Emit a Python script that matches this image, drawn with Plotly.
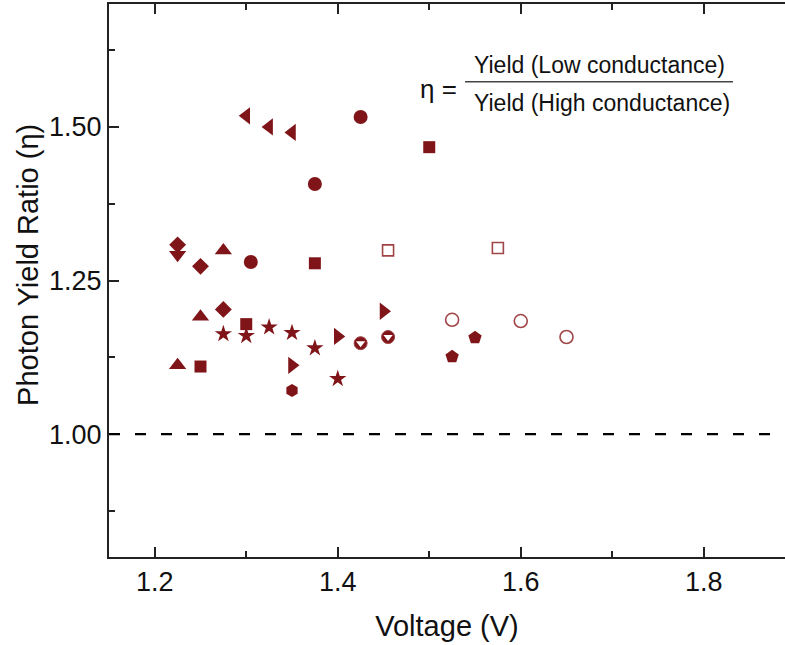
import plotly.graph_objects as go

DARK = "#7f1518"
OPEN = "#a04446"

# ---- data (Voltage V, photon yield ratio eta) ----
circle_x = [1.305, 1.375, 1.425]
circle_y = [1.280, 1.407, 1.516]
square_x = [1.25, 1.30, 1.375, 1.50]
square_y = [1.110, 1.179, 1.278, 1.467]
tri_up_x = [1.225, 1.25, 1.275]
tri_up_y = [1.112, 1.191, 1.299]
tri_down_x = [1.225]
tri_down_y = [1.292]
diamond_x = [1.225, 1.25, 1.275]
diamond_y = [1.308, 1.273, 1.203]
tri_left_x = [1.30, 1.325, 1.35]
tri_left_y = [1.518, 1.500, 1.491]
tri_right_x = [1.35, 1.40, 1.45]
tri_right_y = [1.112, 1.159, 1.200]
hexagon_x = [1.35]
hexagon_y = [1.071]
star_x = [1.275, 1.30, 1.325, 1.35, 1.375, 1.40]
star_y = [1.163, 1.160, 1.174, 1.165, 1.140, 1.090]
half_x = [1.425, 1.455]
half_y = [1.148, 1.158]
pentagon_x = [1.525, 1.55]
pentagon_y = [1.126, 1.157]
open_square_x = [1.455, 1.575]
open_square_y = [1.299, 1.303]
open_circle_x = [1.525, 1.60, 1.65]
open_circle_y = [1.186, 1.184, 1.158]

x_ticks = [1.2, 1.4, 1.6, 1.8]
y_ticks = [1.00, 1.25, 1.50]
y_tick_text = ["1.00", "1.25", "1.50"]
reference_eta = 1.0

FONT = "Arial, Liberation Sans, sans-serif"

fig = go.Figure()

def filled(x, y, symbol, size):
    fig.add_trace(go.Scatter(
        x=x, y=y, mode="markers",
        marker=dict(symbol=symbol, size=size, color=DARK,
                    line=dict(width=0)),
        showlegend=False, hoverinfo="skip"))

filled(circle_x, circle_y, "circle", 14)
filled(square_x, square_y, "square", 12)
filled(tri_up_x, tri_up_y, "triangle-up", 15)
filled(tri_down_x, tri_down_y, "triangle-down", 15)
filled(diamond_x, diamond_y, "diamond", 13)
filled(tri_left_x, tri_left_y, "triangle-left", 15)
filled(tri_right_x, tri_right_y, "triangle-right", 15)
filled(hexagon_x, hexagon_y, "hexagon", 13)
filled(star_x, star_y, "star", 13)
filled(pentagon_x, pentagon_y, "pentagon", 14)

# half-filled circles
fig.add_trace(go.Scatter(
    x=half_x, y=half_y, mode="markers",
    marker=dict(symbol="circle", size=13, color=DARK,
                line=dict(width=1, color=OPEN)),
    showlegend=False, hoverinfo="skip"))
fig.add_trace(go.Scatter(
    x=half_x, y=half_y, mode="markers",
    marker=dict(symbol="triangle-down", size=8, color="white",
                line=dict(width=0)),
    showlegend=False, hoverinfo="skip"))

# open markers
fig.add_trace(go.Scatter(
    x=open_square_x, y=open_square_y, mode="markers",
    marker=dict(symbol="square-open", size=11, color=OPEN,
                line=dict(width=1.6, color=OPEN)),
    showlegend=False, hoverinfo="skip"))
fig.add_trace(go.Scatter(
    x=open_circle_x, y=open_circle_y, mode="markers",
    marker=dict(symbol="circle-open", size=13, color=OPEN,
                line=dict(width=1.6, color=OPEN)),
    showlegend=False, hoverinfo="skip"))

# dashed reference line at eta = 1
fig.add_shape(type="line", xref="paper", x0=0, x1=1, yref="y",
              y0=reference_eta, y1=reference_eta,
              line=dict(color="black", width=2.3, dash="11px,15px"))

# equation
fig.add_annotation(xref="paper", yref="paper", x=0.7256, y=0.8897,
                   text="Yield (Low conductance)", showarrow=False,
                   font=dict(family=FONT, size=23, color="#111"),
                   xanchor="center", yanchor="middle")
fig.add_annotation(xref="paper", yref="paper", x=0.729, y=0.821,
                   text="Yield (High conductance)", showarrow=False,
                   font=dict(family=FONT, size=23, color="#111"),
                   xanchor="center", yanchor="middle")
fig.add_annotation(xref="paper", yref="paper", x=0.4867, y=0.846,
                   text="η =", showarrow=False,
                   font=dict(family=FONT, size=26, color="#111"),
                   xanchor="center", yanchor="middle")
fig.add_shape(type="line", xref="paper", yref="paper",
              x0=0.5266, x1=0.923, y0=0.8595, y1=0.8595,
              line=dict(color="#444", width=1.5))

# y-axis title (placed as in the reference)
fig.add_annotation(xref="paper", yref="paper", x=-0.12, y=0.528,
                   text="Photon Yield Ratio (η)", showarrow=False,
                   textangle=-90,
                   font=dict(family=FONT, size=29, color="#111"),
                   xanchor="center", yanchor="middle")

fig.update_layout(
    width=785, height=645,
    margin=dict(l=109, r=0, t=4, b=88),
    paper_bgcolor="white", plot_bgcolor="white",
    font=dict(family=FONT, color="#111"),
    xaxis=dict(
        range=[1.15, 1.8888], tickvals=x_ticks,
        ticktext=[f"{v:.1f}" for v in x_ticks],
        ticks="inside", ticklen=10, tickwidth=1.5, tickcolor="#222",
        minor=dict(dtick=0.1, tick0=1.2, ticks="inside", ticklen=6,
                   tickwidth=1.5, tickcolor="#222", showgrid=False),
        showline=True, linecolor="#222", linewidth=2, mirror="ticks",
        showgrid=False, zeroline=False,
        tickfont=dict(size=27), ticklabelstandoff=0,
        title=dict(text="Voltage (V)", font=dict(size=29), standoff=19),
    ),
    yaxis=dict(
        range=[0.8, 1.7], tickvals=y_ticks, ticktext=y_tick_text,
        ticks="inside", ticklen=10, tickwidth=1.5, tickcolor="#222",
        minor=dict(dtick=0.125, tick0=0.875, ticks="inside", ticklen=6,
                   tickwidth=1.5, tickcolor="#222", showgrid=False),
        showline=True, linecolor="#222", linewidth=2, mirror=False,
        showgrid=False, zeroline=False,
        tickfont=dict(size=27), ticklabelstandoff=0,
    ),
)

fig.write_html(
    "out.html",
    config={"displayModeBar": False},
    post_script="document.body.style.margin='0';"
                "document.body.style.overflow='hidden';",
)
